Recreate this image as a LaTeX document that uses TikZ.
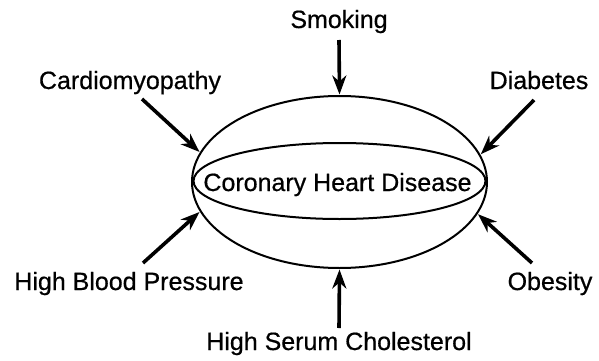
\documentclass[tikz,border=0pt]{standalone}
\usepackage{fontspec}
\setmainfont{Liberation Sans}
\newfontfamily\lblfont{Liberation Sans}[FakeBold=0.6]
\usetikzlibrary{arrows.meta,shapes.geometric}
\begin{document}
\begin{tikzpicture}[x=1pt,y=-1pt,
  lbl/.style={anchor=base,inner sep=0pt,font=\lblfont\fontsize{25}{30}\selectfont},
  outerell/.style={draw,ellipse,line width=2pt,minimum width=295pt,minimum height=172pt,inner sep=0pt},
  innerell/.style={draw,ellipse,line width=2pt,minimum width=292pt,minimum height=76pt,inner sep=0pt},
  cause/.style={line width=3.6pt,-{Stealth[length=19pt,width=14pt,inset=6pt]},shorten >=0.5pt}]
\useasboundingbox (0,0) rectangle (599,361);
\node[outerell] (chd) at (339.5,182) {};
\node[innerell] (inner) at (339.5,181) {};
\node[lbl] (chdtext) at (337.5,191) {Coronary Heart Disease};
\node[lbl] (smk) at (339,28) {Smoking};
\node[lbl] (card) at (130,89) {Cardiomyopathy};
\node[lbl] (diab) at (539,89) {Diabetes};
\node[lbl] (hbp) at (129,290) {High Blood Pressure};
\node[lbl] (obes) at (550,290) {Obesity};
\node[lbl] (chol) at (339,350) {High Serum Cholesterol};
\coordinate (smkT) at (339,40);
\coordinate (cardT) at (142,99);
\coordinate (diabT) at (534,100);
\coordinate (hbpT) at (143,263);
\coordinate (obesT) at (532,263);
\coordinate (cholT) at (339,328);
\draw[cause] (smkT) -- (chd.90);
\draw[cause] (cardT) -- (chd.168.4);
\draw[cause] (diabT) -- (chd.11.7);
\draw[cause] (hbpT) -- (chd.192.4);
\draw[cause] (obesT) -- (chd.347.5);
\draw[cause] (cholT) -- (chd.270);
\end{tikzpicture}
\end{document}
